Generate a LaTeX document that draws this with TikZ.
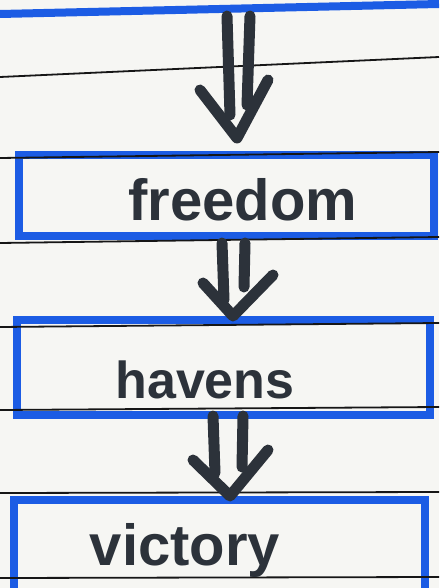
\documentclass[tikz,border=0pt]{standalone}
\usepackage{fontspec}
\setmainfont{Liberation Sans}
\begin{document}
\begin{tikzpicture}[x=1pt,y=-1pt,
  paperline/.style={line width=1.8pt,draw=rulecol},
  box/.style={draw=penblue,line width=8pt,rectangle,inner sep=0pt},
  word/.style={text=inkcol,anchor=base,inner sep=0pt,font=\bfseries},
  ink/.style={draw=inkcol,line width=11pt,line cap=round,line join=round}]
\definecolor{penblue}{RGB}{28,92,228}
\definecolor{inkcol}{RGB}{44,50,58}
\definecolor{rulecol}{RGB}{22,22,22}
\definecolor{paper}{RGB}{246,246,243}
\useasboundingbox (0,0) rectangle (439,588);
\fill[paper] (0,0) rectangle (439,588);
% top box (only its lower edge is visible)
\draw[draw=penblue,line width=8pt] (0,14) -- (439,4);
\coordinate (b0) at (238,10);
% boxes
\node[box,minimum width=415pt,minimum height=81pt] (b1) at (226.5,195.5) {};
\node[box,minimum width=413pt,minimum height=95pt] (b2) at (223.5,367.5) {};
\node[box,minimum width=411pt,minimum height=130pt] (b3) at (219.5,565) {};
% paper rules
\draw[paperline] (0,77) -- (439,57);
\draw[paperline] (0,158) -- (439,152);
\draw[paperline] (0,243) -- (439,237);
\draw[paperline] (0,327) -- (439,323);
\draw[paperline] (0,410) -- (439,407);
\draw[paperline] (0,493) -- (439,492);
\draw[paperline] (0,578) -- (439,577);
% words
\node[word,font=\bfseries\fontsize{58}{60}\selectfont] (t1) at (243,220) {freedom};
\node[word,font=\bfseries\fontsize{52}{54}\selectfont] (t2) at (205,398) {havens};
\node[word,font=\bfseries\fontsize{58}{60}\selectfont] (t3) at (185,565) {victory};
% double arrows
\coordinate (a1tip) at (237,138);
\draw[ink] (227,16) -- (230,115);
\draw[ink] (250,16) -- (247,105);
\draw[ink] (200,90) -- (a1tip) -- (268,80);
\coordinate (a2tip) at (233,316);
\draw[ink] (222,243) -- (224,300);
\draw[ink] (245,243) -- (244,287);
\draw[ink] (203,283) -- (a2tip) -- (273,275);
\coordinate (a3tip) at (230,496);
\draw[ink] (213,416) -- (215,473);
\draw[ink] (243,416) -- (242,467);
\draw[ink] (193,460) -- (a3tip) -- (268,450);
\end{tikzpicture}
\end{document}
